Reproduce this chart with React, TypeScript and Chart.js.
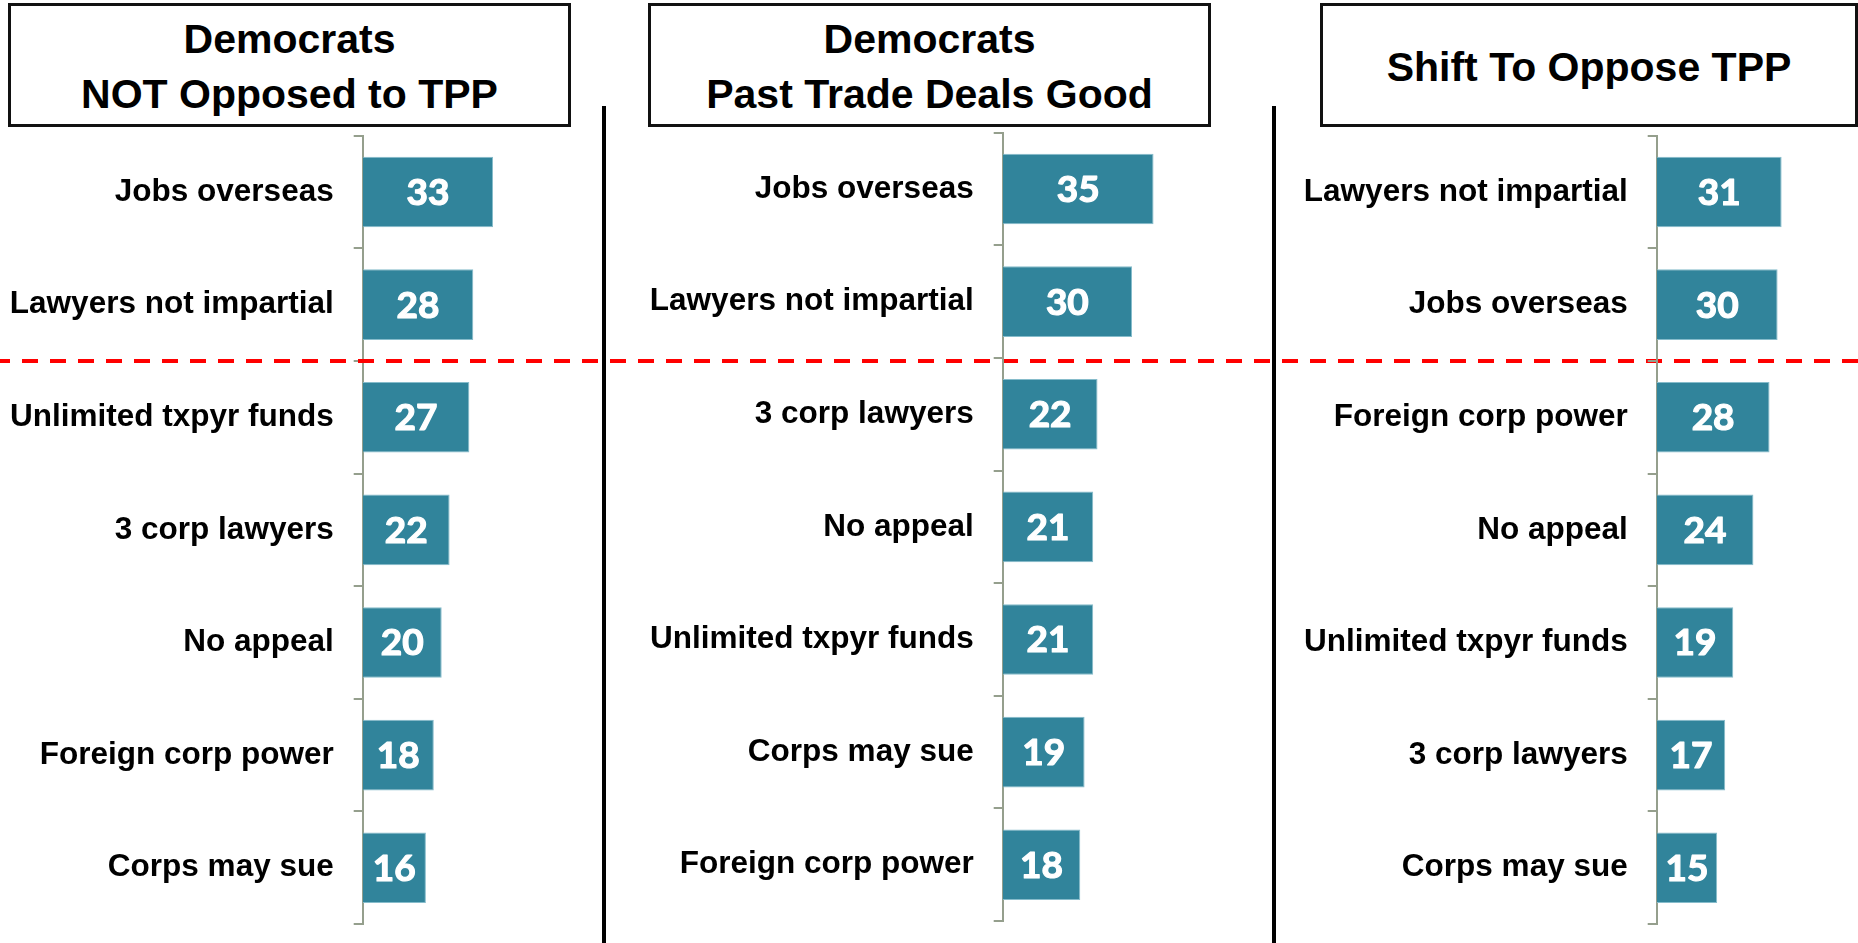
import React, { useEffect, useRef } from "react";
import { Chart, registerables } from "chart.js";

Chart.register(...registerables);

// ---------- Data ----------
const panel1Title = ["Democrats", "NOT Opposed to TPP"];
const panel1Categories = [
  "Jobs overseas",
  "Lawyers not impartial",
  "Unlimited txpyr funds",
  "3 corp lawyers",
  "No appeal",
  "Foreign corp power",
  "Corps may sue",
];
const panel1Values = [33, 28, 27, 22, 20, 18, 16];

const panel2Title = ["Democrats", "Past Trade Deals Good"];
const panel2Categories = [
  "Jobs overseas",
  "Lawyers not impartial",
  "3 corp lawyers",
  "No appeal",
  "Unlimited txpyr funds",
  "Corps may sue",
  "Foreign corp power",
];
const panel2Values = [35, 30, 22, 21, 21, 19, 18];

const panel3Title = ["Shift To Oppose TPP"];
const panel3Categories = [
  "Lawyers not impartial",
  "Jobs overseas",
  "Foreign corp power",
  "No appeal",
  "Unlimited txpyr funds",
  "3 corp lawyers",
  "Corps may sue",
];
const panel3Values = [31, 30, 28, 24, 19, 17, 15];

// ---------- Styles ----------
const W = 1858;
const H = 943;
const BAR_COLOR = "#31849B";
const BAR_EDGE = "#86BCCB";
const AXIS_COLOR = "#959F8D";
const LABEL_FONT = "'Liberation Sans', Arial, sans-serif";
const VALUE_FONT = "Lato, 'Open Sans', sans-serif";

const valueLabelPlugin = {
  id: "valueLabels",
  afterDatasetsDraw(chart: any) {
    const ctx = chart.ctx;
    const meta = chart.getDatasetMeta(0);
    const data = chart.data.datasets[0].data;
    ctx.save();
    ctx.fillStyle = "#FFFFFF";
    ctx.strokeStyle = "#FFFFFF";
    ctx.lineWidth = 1.2;
    ctx.lineJoin = "round";
    ctx.font = `700 37px ${VALUE_FONT}`;
    ctx.textAlign = "center";
    ctx.textBaseline = "middle";
    meta.data.forEach((bar: any, i: number) => {
      const p = bar.getProps(["x", "y", "base"], true);
      const cx = (p.x + p.base) / 2;
      ctx.fillText(String(data[i]), cx, p.y + 1);
      ctx.strokeText(String(data[i]), cx, p.y + 1);
    });
    ctx.restore();
  },
};

const dashPlugin = {
  id: "dashLine",
  afterDraw(chart: any, _args: any, opts: any) {
    if (!opts || !opts.enabled) return;
    const y = chart.scales.y;
    const py = (y.getPixelForValue(1) + y.getPixelForValue(2)) / 2;
    const ctx = chart.ctx;
    ctx.save();
    ctx.strokeStyle = "#FF0000";
    ctx.lineWidth = 4;
    ctx.setLineDash([16, 12]);
    ctx.lineDashOffset = 6;
    ctx.beginPath();
    ctx.moveTo(0, py);
    ctx.lineTo(chart.width, py);
    ctx.stroke();
    ctx.restore();
  },
};

type PanelLayout = {
  axisX: number;
  top: number;
  bottom: number;
  pxPerUnit: number;
  xMax: number;
  labelArea: number;
  dash: boolean;
};

function makeConfig(labels: string[], values: number[], L: PanelLayout): any {
  const areaWidth = L.xMax * L.pxPerUnit;
  const padLeft = L.axisX - L.labelArea;
  const padRight = W - (L.axisX + areaWidth);
  return {
    type: "bar",
    data: {
      labels,
      datasets: [
        {
          data: values,
          backgroundColor: BAR_COLOR,
          borderColor: BAR_EDGE,
          borderWidth: 1,
          categoryPercentage: 0.627,
          barPercentage: 1,
        },
      ],
    },
    plugins: [valueLabelPlugin, dashPlugin],
    options: {
      indexAxis: "y",
      animation: false,
      responsive: false,
      maintainAspectRatio: false,
      devicePixelRatio: 1,
      events: [],
      layout: {
        padding: { left: padLeft, right: padRight, top: L.top, bottom: H - L.bottom },
      },
      plugins: {
        legend: { display: false },
        tooltip: { enabled: false },
        title: { display: false },
        dashLine: { enabled: L.dash },
      },
      scales: {
        x: { display: false, min: 0, max: L.xMax },
        y: {
          afterFit: (s: any) => {
            s.width = L.labelArea;
            s.paddingTop = 0;
            s.paddingBottom = 0;
          },
          grid: {
            display: true,
            drawOnChartArea: false,
            drawTicks: true,
            tickLength: 9,
            color: AXIS_COLOR,
            lineWidth: 2,
            offset: true,
          },
          border: { display: true, color: AXIS_COLOR, width: 2 },
          ticks: {
            color: "#000000",
            autoSkip: false,
            padding: 20,
            font: { family: LABEL_FONT, size: 31.5, weight: "bold" },
          },
        },
      },
    },
  };
}

const layouts: PanelLayout[] = [
  { axisX: 362.7, top: 135.7, bottom: 924, pxPerUnit: 3.95, xMax: 60, labelArea: 362, dash: true },
  { axisX: 1002.7, top: 132.7, bottom: 921, pxPerUnit: 4.31, xMax: 60, labelArea: 400, dash: false },
  { axisX: 1656.7, top: 135.7, bottom: 924, pxPerUnit: 4.03, xMax: 45, labelArea: 400, dash: false },
];

function PanelCanvas({ labels, values, layout }: { labels: string[]; values: number[]; layout: PanelLayout }) {
  const ref = useRef<HTMLCanvasElement | null>(null);
  useEffect(() => {
    if (!ref.current) return;
    const chart = new Chart(ref.current, makeConfig(labels, values, layout));
    return () => chart.destroy();
  }, []);
  return (
    <canvas
      ref={ref}
      width={W}
      height={H}
      style={{ position: "absolute", left: 0, top: 0, width: W, height: H }}
    />
  );
}

function TitleBox({ lines, left, width }: { lines: string[]; left: number; width: number }) {
  return (
    <div
      style={{
        position: "absolute",
        left,
        top: 3,
        width,
        height: 124,
        boxSizing: "border-box",
        border: "3px solid #111111",
        paddingTop: 4,
        display: "flex",
        flexDirection: "column",
        justifyContent: "center",
        alignItems: "center",
        fontFamily: LABEL_FONT,
        fontWeight: "bold",
        fontSize: 41,
        lineHeight: "55px",
        color: "#000000",
        background: "#FFFFFF",
        zIndex: 2,
      }}
    >
      {lines.map((l, i) => (
        <div key={i}>{l}</div>
      ))}
    </div>
  );
}

export default function App() {
  return (
    <div
      style={{
        position: "absolute",
        left: 0,
        top: 0,
        width: W,
        height: H,
        overflow: "hidden",
        background: "#FFFFFF",
      }}
    >
      <PanelCanvas labels={panel1Categories} values={panel1Values} layout={layouts[0]} />
      <PanelCanvas labels={panel2Categories} values={panel2Values} layout={layouts[1]} />
      <PanelCanvas labels={panel3Categories} values={panel3Values} layout={layouts[2]} />
      <TitleBox lines={panel1Title} left={8} width={563} />
      <TitleBox lines={panel2Title} left={648} width={563} />
      <TitleBox lines={panel3Title} left={1320} width={538} />
      <div style={{ position: "absolute", left: 601.5, top: 106, width: 4, height: H - 106, background: "#000", zIndex: 3 }} />
      <div style={{ position: "absolute", left: 1272, top: 106, width: 4, height: H - 106, background: "#000", zIndex: 3 }} />
    </div>
  );
}
